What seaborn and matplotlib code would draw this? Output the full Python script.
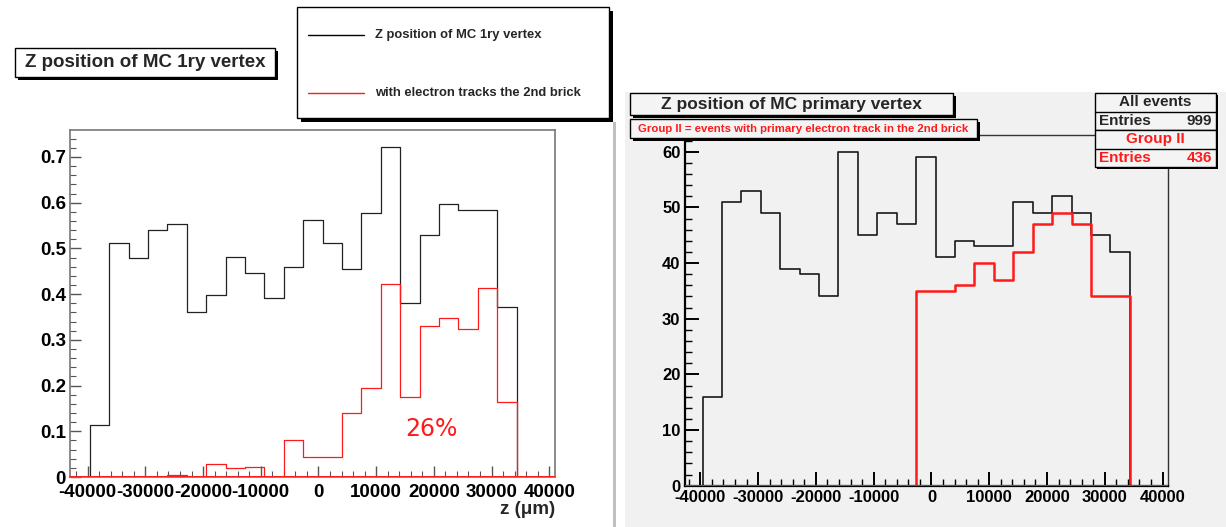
import numpy as np
import pandas as pd
import matplotlib
matplotlib.use('Agg')
import matplotlib.pyplot as plt
from matplotlib.patches import Rectangle
from matplotlib.lines import Line2D
from matplotlib.ticker import MultipleLocator, FuncFormatter
import seaborn as sns

sns.set_style('white')
plt.rcParams['font.family'] = ['Liberation Sans', 'DejaVu Sans']
plt.rcParams['axes.unicode_minus'] = False

# binning of z (um), 22 bins
z_low, z_high, n_bins = -39630, 34345, 22

# left: normalised, all events vs events with electron tracks in the 2nd brick
left_all = [0.113, 0.511, 0.478, 0.541, 0.554, 0.360, 0.397, 0.482, 0.447, 0.391, 0.460,
            0.563, 0.511, 0.455, 0.578, 0.722, 0.381, 0.530, 0.597, 0.585, 0.585, 0.371]
left_ele = [0.0, 0.0, 0.0, 0.0, 0.004, 0.0, 0.029, 0.019, 0.022, 0.0, 0.082,
            0.044, 0.044, 0.141, 0.195, 0.423, 0.174, 0.330, 0.348, 0.324, 0.413, 0.165]

# right: counts, all events vs group II
right_all = [16, 51, 53, 49, 39, 38, 34, 60, 45, 49, 47, 59, 41, 44, 43, 43, 51, 49, 52, 49, 45, 42]
right_grp2 = [0, 0, 0, 0, 0, 0, 0, 0, 0, 0, 0, 35, 35, 36, 40, 37, 42, 47, 49, 47, 34, 34]

x_ticks = [-40000, -30000, -20000, -10000, 0, 10000, 20000, 30000, 40000]
left_yticks = [0, 0.1, 0.2, 0.3, 0.4, 0.5, 0.6, 0.7]
right_yticks = [0, 10, 20, 30, 40, 50, 60]

edges = list(np.linspace(z_low, z_high, n_bins + 1))
centers = [0.5 * (a + b) for a, b in zip(edges[:-1], edges[1:])]
# one empty bin on each side so the outline drops back to zero at the ends
bw = edges[1] - edges[0]
plot_bins = [edges[0] - bw] + edges + [edges[-1] + bw]
df = pd.DataFrame({'z': centers, 'left_all': left_all, 'left_ele': left_ele,
                   'right_all': right_all, 'right_grp2': right_grp2})

W, H = 1226, 527
fig = plt.figure(figsize=(W / 100, H / 100), dpi=100)
fig.patch.set_facecolor('white')
RED = '#ff1a1a'
GRAY_BG = '#f1f1f1'


def px_rect(x0, y0, x1, y1, **kw):
    return Rectangle((x0 / W, 1 - y1 / H), (x1 - x0) / W, (y1 - y0) / H,
                     transform=fig.transFigure, **kw)


def root_box(x0, y0, x1, y1, face='white', shadow=3, lw=1.0):
    if shadow:
        fig.add_artist(px_rect(x0 + shadow, y0 + shadow, x1 + shadow, y1 + shadow,
                               facecolor='black', edgecolor='none', zorder=5))
    fig.add_artist(px_rect(x0, y0, x1, y1, facecolor=face, edgecolor='black',
                           linewidth=lw, zorder=6))


def ftext(x, y, s, **kw):
    fig.text(x / W, 1 - y / H, s, zorder=8, fontweight='bold', **kw)


def hline(x0, x1, y, **kw):
    fig.add_artist(Line2D([x0 / W, x1 / W], [1 - y / H, 1 - y / H],
                          transform=fig.transFigure, zorder=7, **kw))


def axes_px(x0, y0, x1, y1):
    return fig.add_axes([x0 / W, 1 - y1 / H, (x1 - x0) / W, (y1 - y0) / H])


# backgrounds
fig.add_artist(px_rect(625, 92, 1226, 527, facecolor=GRAY_BG, edgecolor='none', zorder=-1))
fig.add_artist(px_rect(613, 122, 616, 527, facecolor='#c0c0c0', edgecolor='none', zorder=-1))

# ---------------- left panel ----------------
ax1 = axes_px(70, 130, 555, 477)
ax1.set_facecolor('white')
sns.histplot(data=df, x='z', weights='left_all', bins=plot_bins, element='step', fill=False,
             color='#222222', linewidth=0.9, ax=ax1)
ax1.axhline(0, color=RED, linewidth=1.4, zorder=3)
sns.histplot(data=df, x='z', weights='left_ele', bins=plot_bins, element='step', fill=False,
             color=RED, linewidth=0.9, ax=ax1)
ax1.set_xlim(-43060, 41000)
ax1.set_ylim(0, 0.759)
ax1.set_xticks(x_ticks)
ax1.set_yticks(left_yticks)
ax1.yaxis.set_major_formatter(FuncFormatter(lambda v, p: '%g' % v))
ax1.xaxis.set_minor_locator(MultipleLocator(2000))
ax1.yaxis.set_minor_locator(MultipleLocator(0.02))
ax1.set_xlabel('')
ax1.set_ylabel('')
for s in ax1.spines.values():
    s.set_color('#777777')
    s.set_linewidth(1.2)
ax1.tick_params(axis='both', which='both', direction='in', colors='#555555',
                labelcolor='black', top=False, right=False, left=True, bottom=True)
ax1.tick_params(axis='both', which='major', length=8, width=1.0, labelsize=13.5, pad=3)
ax1.tick_params(axis='x', which='major', pad=5)
ax1.tick_params(axis='both', which='minor', length=4, width=0.8)
for lab in ax1.get_xticklabels() + ax1.get_yticklabels():
    lab.set_fontweight('bold')
ax1.text(19600, 0.105, '26%', color=RED, fontsize=17, ha='center', va='center',
         family='DejaVu Sans')
ftext(555, 510, 'z (\u03bcm)', ha='right', va='center', fontsize=13.5)

# title + legend boxes of left panel
root_box(15, 48, 275, 77, shadow=3)
ftext(145, 62.5, 'Z position of MC 1ry vertex', ha='center', va='center', fontsize=13.5)
root_box(297, 7, 609, 118, shadow=4)
hline(308, 364, 35, color='black', linewidth=1.0)
hline(308, 364, 93, color=RED, linewidth=1.0)
ftext(375, 35, 'Z position of MC 1ry vertex', ha='left', va='center', fontsize=9.4)
ftext(375, 93, 'with electron tracks the 2nd brick', ha='left', va='center', fontsize=9.4)

# ---------------- right panel ----------------
ax2 = axes_px(684.6, 135, 1168, 485.7)
ax2.set_facecolor('none')
ax2.axhline(0, color=RED, linewidth=2.2, zorder=3)
sns.histplot(data=df, x='z', weights='right_all', bins=plot_bins, element='step', fill=False,
             color='#1a1a1a', linewidth=1.2, ax=ax2)
sns.histplot(data=df, x='z', weights='right_grp2', bins=plot_bins, element='step', fill=False,
             color=RED, linewidth=1.8, ax=ax2)
ax2.set_xlim(-42730, 40940)
ax2.set_ylim(0, 63)
ax2.set_xticks(x_ticks)
ax2.set_yticks(right_yticks)
ax2.xaxis.set_minor_locator(MultipleLocator(2000))
ax2.yaxis.set_minor_locator(MultipleLocator(2))
ax2.set_xlabel('')
ax2.set_ylabel('')
for side in ['left', 'bottom']:
    ax2.spines[side].set_color('black')
    ax2.spines[side].set_linewidth(1.6)
for side in ['top', 'right']:
    ax2.spines[side].set_color('#333333')
    ax2.spines[side].set_linewidth(1.0)
ax2.tick_params(axis='both', which='both', direction='in', colors='black',
                top=False, right=False, left=True, bottom=True)
ax2.tick_params(axis='both', which='major', length=10, width=1.4, labelsize=12, pad=3)
ax2.tick_params(axis='both', which='minor', length=5, width=1.0)
for lab in ax2.get_xticklabels() + ax2.get_yticklabels():
    lab.set_fontweight('bold')

root_box(630, 93, 953, 115, face='#f4f4f4', shadow=3)
ftext(791, 104, 'Z position of MC primary vertex', ha='center', va='center', fontsize=12.5)
root_box(630, 119, 977, 138, face='#f4f4f4', shadow=3)
ftext(803, 128.5, 'Group II = events with primary electron track in the 2nd brick',
      ha='center', va='center', fontsize=8.2, color=RED)

# stat boxes
root_box(1095, 93, 1216, 130, face='#f4f4f4', shadow=2)
hline(1095, 1216, 112, color='black', linewidth=1.0)
ftext(1155.5, 102.5, 'All events', ha='center', va='center', fontsize=11)
ftext(1099, 121, 'Entries', ha='left', va='center', fontsize=11)
ftext(1212, 121, '999', ha='right', va='center', fontsize=11)
root_box(1095, 130, 1216, 167, face='#f4f4f4', shadow=2)
hline(1095, 1216, 149, color='black', linewidth=1.0)
ftext(1155.5, 139.5, 'Group II', ha='center', va='center', fontsize=11, color=RED)
ftext(1099, 158, 'Entries', ha='left', va='center', fontsize=11, color=RED)
ftext(1212, 158, '436', ha='right', va='center', fontsize=11, color=RED)

fig.savefig('out.png', dpi=100)
